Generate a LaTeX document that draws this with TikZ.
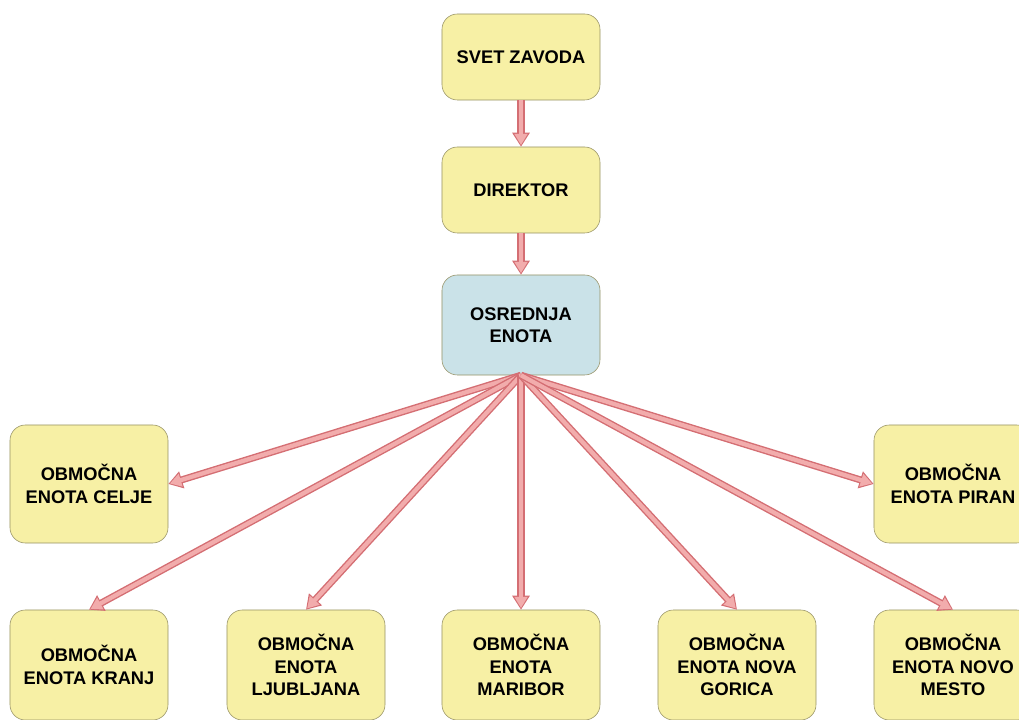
\documentclass[tikz,border=0pt]{standalone}
\usepackage{fontspec}
\setmainfont{Liberation Sans}
\usetikzlibrary{arrows.meta}
\definecolor{unitfill}{RGB}{247,240,165}
\definecolor{unitdraw}{RGB}{150,145,100}
\definecolor{centrefill}{RGB}{202,226,232}
\definecolor{linkfill}{RGB}{242,172,172}
\definecolor{linkdraw}{RGB}{212,110,115}
\begin{document}
\begin{tikzpicture}[x=0.025cm,y=-0.025cm,
    roundednode/.style={rectangle, rounded corners=11pt, draw=unitdraw, fill=unitfill, thin, minimum width=3.95cm, minimum height=2.15cm, align=center, font=\fontsize{13}{16}\selectfont\bfseries},
    centrenode/.style={roundednode, fill=centrefill, minimum height=2.5cm},
    tallnode/.style={roundednode, minimum height=2.95cm},
    bottomnode/.style={roundednode, minimum height=2.75cm},
    link/.style={draw=linkfill, line width=3pt, -{Triangle[length=8pt,width=9pt]}, shorten >=1.2pt,
        preaction={draw=linkdraw, line width=5pt, -{Triangle[length=10pt,width=12pt]}, shorten >=0pt}},
]
    \path[use as bounding box, clip] (0,0) rectangle (1019,720);

    %Nodes
    \node[roundednode] (svet) at (521,57) {SVET ZAVODA};
    \node[roundednode] (direktor) at (521,190) {DIREKTOR};
    \node[centrenode] (osrednja) at (521,325) {OSREDNJA\\ENOTA};
    \node[tallnode] (celje) at (89,484) {OBMOČNA\\ENOTA CELJE};
    \node[tallnode] (piran) at (953,484) {OBMOČNA\\ENOTA PIRAN};
    \node[bottomnode] (kranj) at (89,665) {OBMOČNA\\ENOTA KRANJ};
    \node[bottomnode] (ljubljana) at (306,665) {OBMOČNA\\ENOTA\\LJUBLJANA};
    \node[bottomnode] (maribor) at (521,665) {OBMOČNA\\ENOTA\\MARIBOR};
    \node[bottomnode] (novagorica) at (737,665) {OBMOČNA\\ENOTA NOVA\\GORICA};
    \node[bottomnode] (novomesto) at (953,665) {OBMOČNA\\ENOTA NOVO\\MESTO};

    %Lines
    \draw[link] (svet) -- (direktor);
    \draw[link] (direktor) -- (osrednja);
    \draw[link] (osrednja.south) -- (celje.east);
    \draw[link] (osrednja.south) -- (piran.west);
    \draw[link] (osrednja.south) -- (kranj.north);
    \draw[link] (osrednja.south) -- (ljubljana.north);
    \draw[link] (osrednja.south) -- (maribor.north);
    \draw[link] (osrednja.south) -- (novagorica.north);
    \draw[link] (osrednja.south) -- (novomesto.north);
\end{tikzpicture}
\end{document}
